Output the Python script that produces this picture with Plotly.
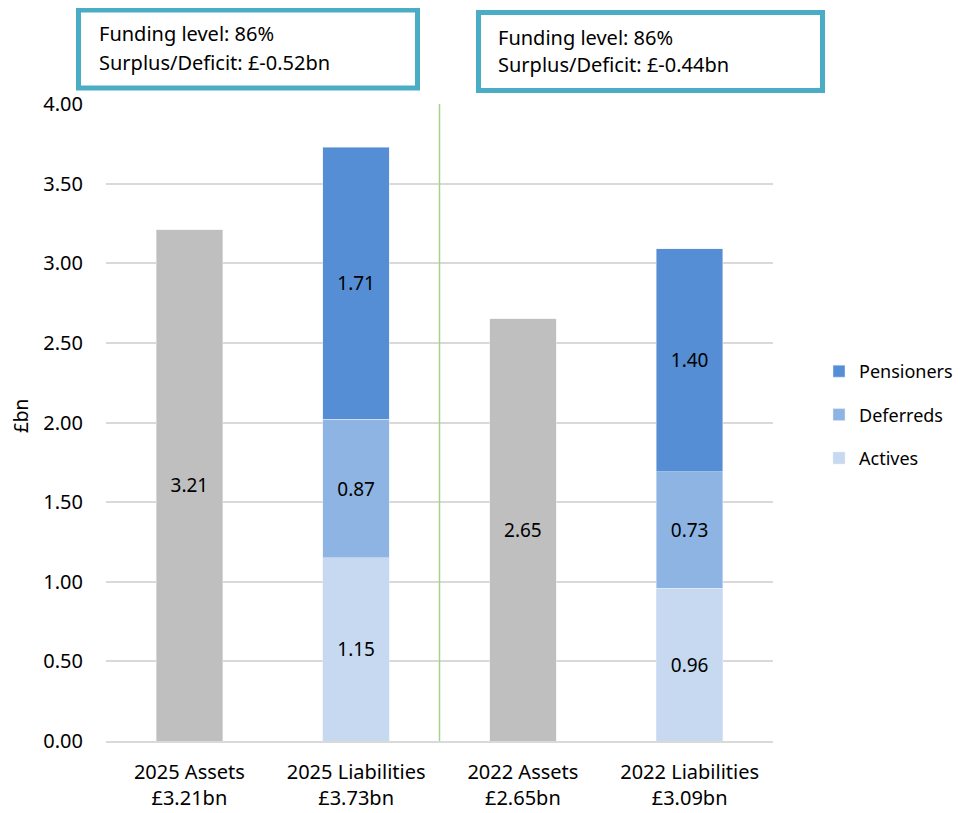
import plotly.graph_objects as go

categories = ["2025 Assets<br>£3.21bn", "2025 Liabilities<br>£3.73bn", "2022 Assets<br>£2.65bn", "2022 Liabilities<br>£3.09bn"]
assets = [3.21, None, 2.65, None]
actives = [None, 1.15, None, 0.96]
deferreds = [None, 0.87, None, 0.73]
pensioners = [None, 1.71, None, 1.40]
y_ticks = [0, 0.5, 1.0, 1.5, 2.0, 2.5, 3.0, 3.5, 4.0]
box_texts = [("Funding level: 86%", "Surplus/Deficit: £-0.52bn"),
             ("Funding level: 86%", "Surplus/Deficit: £-0.44bn")]

FONT = "Noto Sans"
fig = go.Figure()
lbl = dict(textposition="inside", insidetextanchor="middle", texttemplate="%{y:.2f}",
           textfont=dict(color="black", size=19, family=FONT), cliponaxis=False)
fig.add_trace(go.Bar(x=categories, y=assets, marker_color="#BFBFBF", showlegend=False, name="Assets", **lbl))
fig.add_trace(go.Bar(x=categories, y=actives, marker_color="#C6D9F0", name="Actives", legendgroup="a", legendrank=3, **lbl))
fig.add_trace(go.Bar(x=categories, y=deferreds, marker_color="#8EB4E3", name="Deferreds", legendgroup="d", legendrank=2, **lbl))
fig.add_trace(go.Bar(x=categories, y=pensioners, marker_color="#558ED5", name="Pensioners", legendgroup="p", legendrank=1, **lbl))

# page is offset by 8px body margin
OFF = 8
PL, PT, PR, PB = 106, 104, 773, 741  # plot area in page pixels
W, H = 963 - OFF, 813 - OFF
L, T = PL - OFF, PT - OFF
R, B = W - (PR - OFF), H - (PB - OFF)
pw, ph = PR - PL, PB - PT
def px(x): return (x - PL) / pw
def py(y): return (PB - y) / ph

shapes = [dict(type="line", xref="x", yref="paper", x0=1.5, x1=1.5, y0=0, y1=1,
               line=dict(color="#A9D18E", width=1.5))]
annotations = []
boxes = [(78.5, 417.5, 10, 88, 97, 33, 62), (478.5, 822.5, 12.5, 90.5, 496, 37, 65)]
for (x0, x1, y0, y1, tx, ty1, ty2), (t1, t2) in zip(boxes, box_texts):
    shapes.append(dict(type="rect", xref="paper", yref="paper", x0=px(x0), x1=px(x1), y0=py(y1), y1=py(y0),
                       line=dict(color="#4BACC6", width=5), fillcolor="white"))
    for t, ty in ((t1, ty1), (t2, ty2)):
        annotations.append(dict(xref="paper", yref="paper", x=px(tx), y=py(ty), text=t, showarrow=False,
                                xanchor="left", yanchor="middle", font=dict(size=20, family=FONT, color="black")))
annotations.append(dict(xref="paper", yref="paper", x=px(21), y=py(416), text="£bn", textangle=-90,
                        showarrow=False, xanchor="center", yanchor="middle",
                        font=dict(size=19, family=FONT, color="black")))

fig.update_layout(
    width=W, height=H, barmode="stack", bargap=0.6,
    margin=dict(l=L, r=R, t=T, b=B, autoexpand=False),
    paper_bgcolor="white", plot_bgcolor="white",
    font=dict(family=FONT, size=20, color="black"),
    shapes=shapes, annotations=annotations,
    legend=dict(xref="container", yref="container", x=(819 - OFF) / W, y=1 - (415 - OFF) / H,
                xanchor="left", yanchor="middle", traceorder="grouped",
                font=dict(size=18, family=FONT), itemwidth=30, tracegroupgap=17,
                bgcolor="rgba(0,0,0,0)"),
    yaxis=dict(range=[0, 4], tickvals=y_ticks, tickformat=".2f", gridcolor="#D9D9D9", gridwidth=1.5,
               zeroline=False, showline=False, ticks="", ticklabelstandoff=22, automargin=False,
               tickfont=dict(size=20)),
    xaxis=dict(showline=True, linecolor="#D9D9D9", linewidth=1.5, ticks="", tickfont=dict(size=20),
               ticklabelstandoff=12, automargin=False),
)
fig.write_html("out.html")
